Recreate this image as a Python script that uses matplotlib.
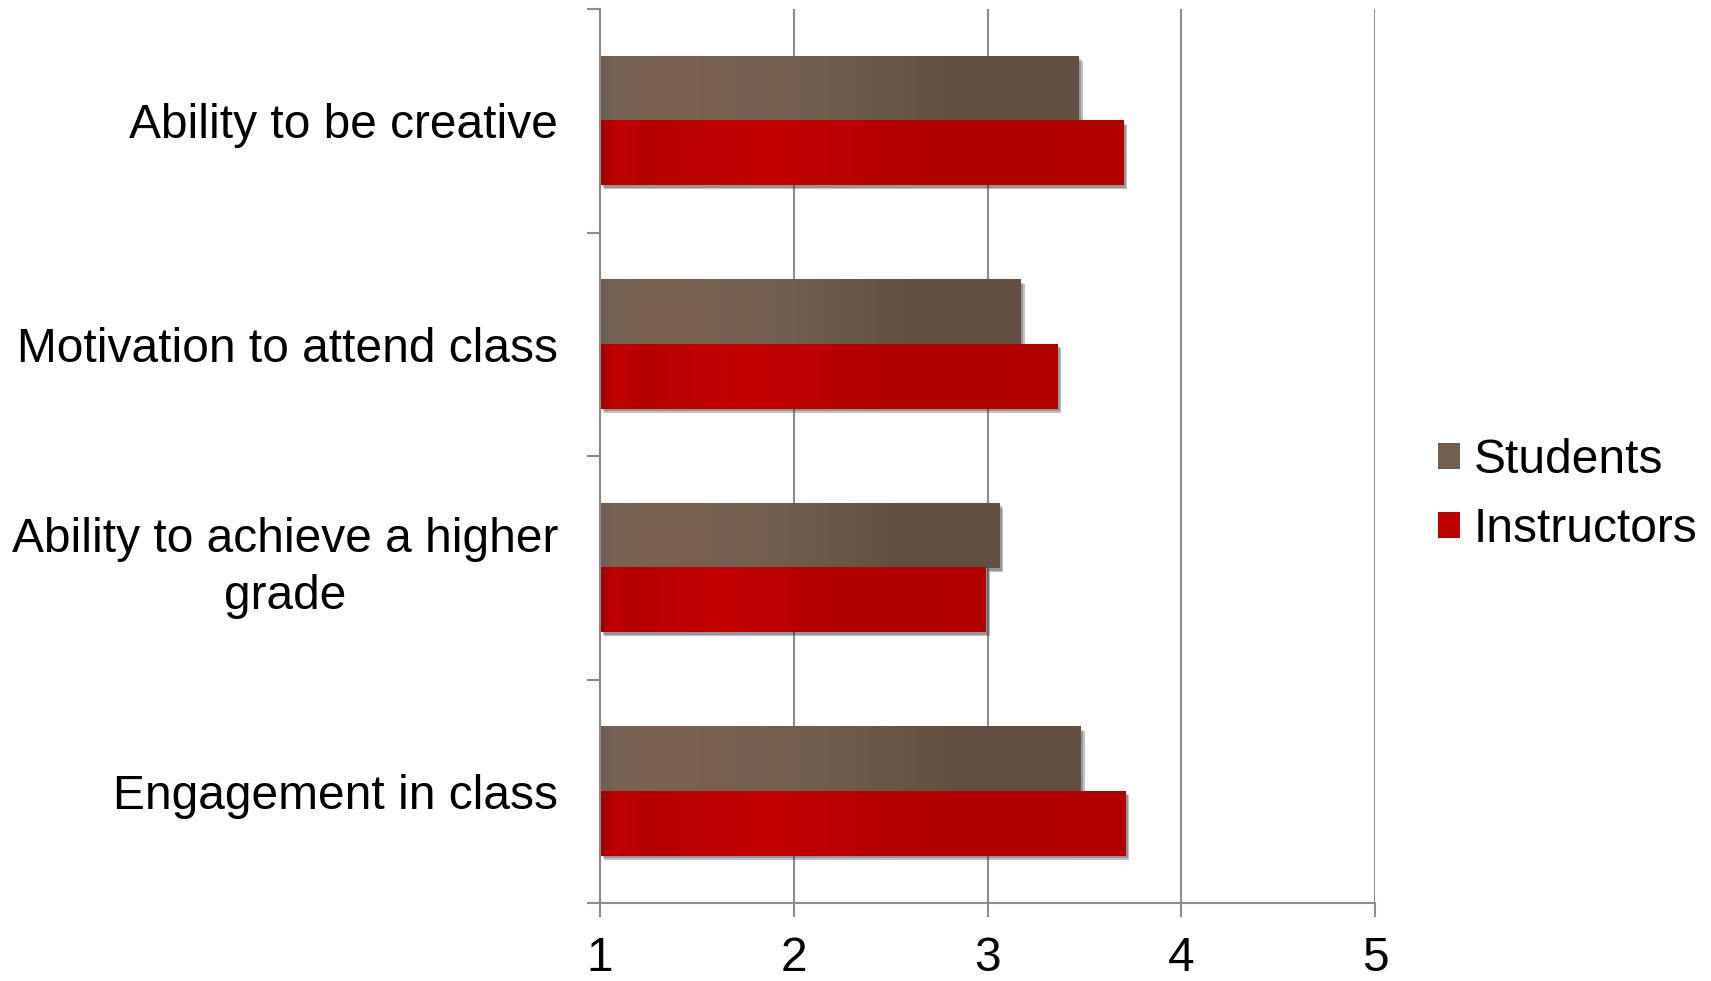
import matplotlib.pyplot as plt
import matplotlib.patheffects as pe
from matplotlib.colors import LinearSegmentedColormap
from matplotlib.patches import Patch
from matplotlib.ticker import FixedLocator
import numpy as np

plt.rcParams['font.family'] = ['Liberation Sans', 'DejaVu Sans']

categories = ['Ability to be creative', 'Motivation to attend class',
              'Ability to achieve a higher\ngrade', 'Engagement in class']
students = [3.47, 3.17, 3.06, 3.48]
instructors = [3.70, 3.36, 2.99, 3.71]
series_names = ['Students', 'Instructors']
xticks = [1, 2, 3, 4, 5]

grid_gray = '#8c8c8c'
fs = 34.5

# left-to-right shading inside each bar
brown = LinearSegmentedColormap.from_list('brown', [
    (0.0, '#6a5d57'), (0.03, '#776354'), (0.12, '#7a6252'),
    (0.45, '#725e4f'), (0.72, '#655142'), (1.0, '#645043')])
red = LinearSegmentedColormap.from_list('red', [
    (0.0, '#9c0000'), (0.03, '#c20000'), (0.08, '#b60000'),
    (0.32, '#c40000'), (0.65, '#b00000'), (1.0, '#b30000')])

fig = plt.figure(figsize=(17.11, 9.81), dpi=100)
ax = fig.add_axes([600/1711, 1 - 903/981, 775/1711, 894/981])

y = np.arange(len(categories))
h = 0.288
shadow = [pe.SimplePatchShadow(offset=(3, -3), shadow_rgbFace='#333333', alpha=0.3),
          pe.SimplePatchShadow(offset=(2, -2), shadow_rgbFace='#333333', alpha=0.3),
          pe.Normal()]

grad = np.linspace(0, 1, 256)[None, :]
for vals, offs, cmap in [(students, -h/2, brown), (instructors, h/2, red)]:
    bars = ax.barh(y + offs, np.array(vals) - 1, left=1, height=h,
                   color=cmap(0.5), zorder=2, path_effects=shadow)
    for b in bars:
        x0, y0 = b.get_x(), b.get_y()
        ax.imshow(grad, cmap=cmap, aspect='auto', interpolation='bilinear',
                  extent=(x0, x0 + b.get_width(), y0, y0 + b.get_height()), zorder=2.1)

ax.set_xlim(1, 5)
ax.set_ylim(3.5, -0.5)

ax.set_axisbelow(True)
ax.xaxis.grid(True, color=grid_gray, linewidth=1.5)
ax.set_xticks(xticks)
ax.tick_params(axis='x', length=10, width=1.5, color=grid_gray, labelsize=fs, pad=13.5)

ax.set_yticks(y, categories)
for lbl in ax.get_yticklabels():
    lbl.set_multialignment('center')
    lbl.set_linespacing(1.33)
    if '\n' in lbl.get_text():
        lbl.set_verticalalignment('center')
ax.tick_params(axis='y', which='major', length=0, pad=30, labelsize=fs)
ax.yaxis.set_minor_locator(FixedLocator(np.arange(-0.5, 4, 1)))
ax.tick_params(axis='y', which='minor', length=9.4, width=1.5, color=grid_gray)

for s in ['top', 'right']:
    ax.spines[s].set_visible(False)
for s in ['left', 'bottom']:
    ax.spines[s].set_color(grid_gray)
    ax.spines[s].set_linewidth(1.5)

handles = [Patch(facecolor='#735f50'), Patch(facecolor='#bd0000')]
fig.legend(handles, series_names, loc='center left', bbox_to_anchor=(1438/1711, 0.495),
           frameon=False, fontsize=fs, handlelength=0.46, handleheight=0.46,
           handletextpad=0.28, labelspacing=0.5, borderpad=0, borderaxespad=0)

fig.savefig('out.png', dpi=100)
